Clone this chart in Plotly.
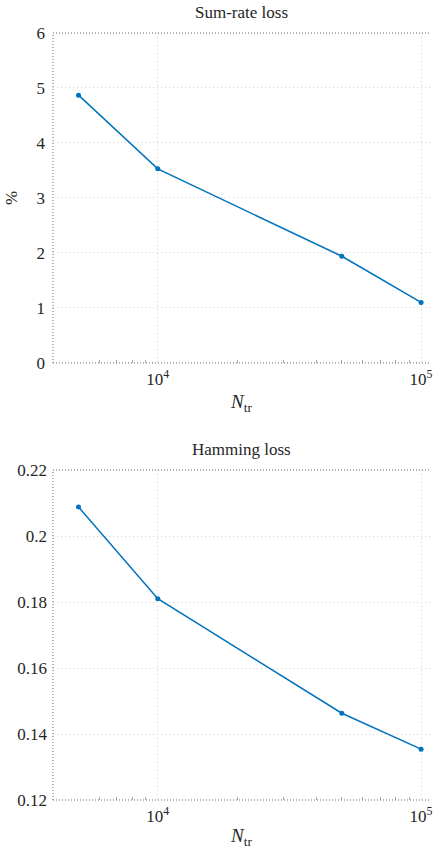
import numpy as np
import plotly.graph_objects as go

n_tr = [5000, 10000, 50000, 100000]
sum_rate_loss = [4.87, 3.53, 1.94, 1.10]
hamming_loss = [0.2088, 0.1810, 0.1463, 0.1354]

x_tickvals = [1e4, 1e5]
x_ticktext = ["10<sup>4</sup>", "10<sup>5</sup>"]
y1_ticks = [0, 1, 2, 3, 4, 5, 6]
y2_ticks = [0.12, 0.14, 0.16, 0.18, 0.2, 0.22]
y2_text = ["0.12", "0.14", "0.16", "0.18", "0.2", "0.22"]

FONT = "Liberation Serif, serif"
TXT = "#262626"
LINE = "#0072BD"
xr = [np.log10(4000), np.log10(108100)]

fig = go.Figure()
fig.add_trace(go.Scatter(x=n_tr, y=sum_rate_loss, mode="lines+markers",
                         line=dict(color=LINE, width=1.5),
                         marker=dict(color=LINE, size=5), xaxis="x", yaxis="y",
                         showlegend=False, cliponaxis=False))
fig.add_trace(go.Scatter(x=n_tr, y=hamming_loss, mode="lines+markers",
                         line=dict(color=LINE, width=1.5),
                         marker=dict(color=LINE, size=5), xaxis="x2", yaxis="y2",
                         showlegend=False, cliponaxis=False))

grid = dict(showgrid=True, gridcolor="#cfcfcf", griddash="1px,3px", gridwidth=1,
            zeroline=False, showline=False)
xcommon = dict(type="log", range=xr, tickvals=x_tickvals, ticktext=x_ticktext,
               ticks="", ticklabeloverflow="allow", ticklabelstandoff=4,
               tickfont=dict(family=FONT, size=17, color=TXT),
               minor=dict(ticks="inside", ticklen=3, tickcolor="#aaa",
                          tickvals=[6000, 7000, 8000, 9000, 20000, 30000, 40000,
                                    50000, 60000, 70000, 80000, 90000],
                          showgrid=False),
               mirror="ticks",
               title=dict(text="<i>N</i><sub>tr</sub>", font=dict(family=FONT, size=19, color=TXT),
                          standoff=6),
               **grid)

d1 = [0.5698, 1.0]
d2 = [0.0, 0.4302]
yfont = dict(family=FONT, size=17, color=TXT)
fig.update_layout(
    width=434, height=849,
    margin=dict(l=53, r=1, t=33, b=49),
    plot_bgcolor="white", paper_bgcolor="white",
    xaxis=dict(domain=[0, 1], anchor="y", **xcommon),
    yaxis=dict(domain=d1, anchor="x", range=[0, 6], tickvals=y1_ticks,
               ticks="", ticklabelstandoff=7, tickfont=yfont,
               title=dict(text="%", font=dict(family=FONT, size=17, color=TXT), standoff=14),
               **grid),
    xaxis2=dict(domain=[0, 1], anchor="y2", **xcommon),
    yaxis2=dict(domain=d2, anchor="x2", range=[0.12, 0.22], tickvals=y2_ticks,
                ticktext=y2_text, ticklabelstandoff=5,
                ticks="", tickfont=yfont,
                **grid),
    annotations=[
        dict(text="Sum-rate loss", x=0.5, y=d1[1], xref="paper", yref="paper",
             yanchor="bottom", yshift=9, showarrow=False,
             font=dict(family=FONT, size=17, color=TXT)),
        dict(text="Hamming loss", x=0.5, y=d2[1], xref="paper", yref="paper",
             yanchor="bottom", yshift=9, showarrow=False,
             font=dict(family=FONT, size=17, color=TXT)),
    ],
)

spine = dict(color="#666", width=1, dash="1px,2px")
for dom in (d1, d2):
    for yv in (dom[0], dom[1]):
        fig.add_shape(type="line", xref="paper", yref="paper", x0=0, x1=1,
                      y0=yv, y1=yv, line=spine, layer="above")
    fig.add_shape(type="line", xref="paper", yref="paper", x0=0, x1=0,
                  y0=dom[0], y1=dom[1], line=spine, layer="above")

fig.write_html("out.html")
